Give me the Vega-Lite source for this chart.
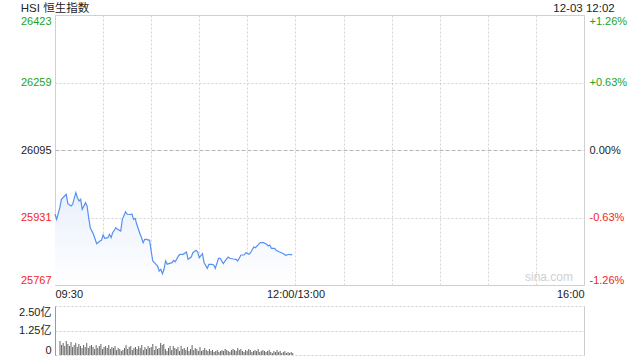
{
  "$schema": "https://vega.github.io/schema/vega-lite/v6.json",
  "padding": {"left": 18, "top": 2, "right": 5, "bottom": 2},
  "background": "white",
  "bounds": "flush",
  "spacing": 21,
  "config": {
    "font": "Liberation Sans, Noto Sans CJK SC, sans-serif",
    "view": {"stroke": null},
    "axis": {"labelFont": "Liberation Sans, Noto Sans CJK SC, sans-serif", "labelFontSize": 11, "labelColor": "#222"}
  },
  "datasets": {
    "px": [
      {"m":0,"v":25938.8},{"m":1,"v":25926.6},{"m":3,"v":25954.8},{"m":4,"v":25975.2},{"m":6,"v":25983.2},{"m":7,"v":25987.4},{"m":8,"v":25964.5},{"m":10,"v":25958.9},{"m":11,"v":25963.1},{"m":13,"v":25991.3},{"m":14,"v":25979.1},{"m":15,"v":25971.1},{"m":16,"v":25975.2},{"m":17,"v":25950.9},{"m":18,"v":25958.9},{"m":19,"v":25967.0},{"m":20,"v":25958.9},{"m":21,"v":25930.5},{"m":22,"v":25906.2},{"m":24,"v":25890.2},{"m":26,"v":25867.3},{"m":28,"v":25873.9},{"m":29,"v":25875.6},{"m":30,"v":25888.5},{"m":31,"v":25880.5},{"m":33,"v":25881.9},{"m":34,"v":25890.2},{"m":35,"v":25881.9},{"m":36,"v":25894.1},{"m":38,"v":25906.2},{"m":39,"v":25902.3},{"m":41,"v":25898.2},{"m":42,"v":25926.6},{"m":44,"v":25945.1},{"m":45,"v":25938.8},{"m":47,"v":25938.3},{"m":48,"v":25939.5},{"m":49,"v":25926.6},{"m":50,"v":25929.0},{"m":51,"v":25914.5},{"m":53,"v":25891.6},{"m":54,"v":25881.9},{"m":55,"v":25869.8},{"m":56,"v":25878.0},{"m":57,"v":25878.0},{"m":59,"v":25875.6},{"m":60,"v":25849.6},{"m":61,"v":25825.3},{"m":62,"v":25821.2},{"m":64,"v":25813.2},{"m":65,"v":25801.0},{"m":66,"v":25805.1},{"m":67,"v":25794.5},{"m":68,"v":25805.1},{"m":69,"v":25825.3},{"m":70,"v":25817.3},{"m":71,"v":25818.8},{"m":73,"v":25821.2},{"m":74,"v":25827.0},{"m":75,"v":25823.6},{"m":77,"v":25837.5},{"m":78,"v":25841.6},{"m":80,"v":25841.6},{"m":82,"v":25847.2},{"m":83,"v":25829.4},{"m":85,"v":25835.0},{"m":86,"v":25845.5},{"m":88,"v":25851.3},{"m":89,"v":25847.2},{"m":90,"v":25833.3},{"m":92,"v":25843.0},{"m":93,"v":25821.2},{"m":95,"v":25807.6},{"m":96,"v":25817.3},{"m":98,"v":25817.3},{"m":99,"v":25815.6},{"m":100,"v":25807.6},{"m":102,"v":25831.9},{"m":103,"v":25831.9},{"m":105,"v":25818.8},{"m":106,"v":25825.3},{"m":108,"v":25835.0},{"m":109,"v":25831.9},{"m":111,"v":25830.2},{"m":113,"v":25829.4},{"m":114,"v":25825.3},{"m":116,"v":25839.9},{"m":118,"v":25839.9},{"m":119,"v":25845.5},{"m":121,"v":25841.6},{"m":122,"v":25845.5},{"m":124,"v":25859.3},{"m":125,"v":25857.6},{"m":127,"v":25865.9},{"m":128,"v":25869.8},{"m":130,"v":25869.8},{"m":132,"v":25865.9},{"m":133,"v":25861.8},{"m":134,"v":25864.2},{"m":135,"v":25856.2},{"m":137,"v":25856.2},{"m":138,"v":25851.3},{"m":140,"v":25847.2},{"m":142,"v":25844.0},{"m":144,"v":25839.2},{"m":146,"v":25841.6},{"m":147,"v":25840.6},{"m":148,"v":25840.6}
    ],
    "vol": [
      {"m":0,"vol":0.71},{"m":1,"vol":0.51},{"m":2,"vol":0.61},{"m":3,"vol":0.46},{"m":4,"vol":0.71},{"m":5,"vol":0.56},{"m":6,"vol":0.46},{"m":7,"vol":0.66},{"m":8,"vol":0.41},{"m":9,"vol":0.51},{"m":10,"vol":0.61},{"m":11,"vol":0.41},{"m":12,"vol":0.56},{"m":13,"vol":0.46},{"m":14,"vol":0.36},{"m":15,"vol":0.51},{"m":16,"vol":0.41},{"m":17,"vol":0.61},{"m":18,"vol":0.36},{"m":19,"vol":0.46},{"m":20,"vol":0.51},{"m":21,"vol":0.41},{"m":22,"vol":0.31},{"m":23,"vol":0.51},{"m":24,"vol":0.36},{"m":25,"vol":0.46},{"m":26,"vol":0.56},{"m":27,"vol":0.31},{"m":28,"vol":0.41},{"m":29,"vol":0.46},{"m":30,"vol":0.36},{"m":31,"vol":0.51},{"m":32,"vol":0.31},{"m":33,"vol":0.41},{"m":34,"vol":0.36},{"m":35,"vol":0.46},{"m":36,"vol":0.26},{"m":37,"vol":0.36},{"m":38,"vol":0.31},{"m":39,"vol":0.20},{"m":40,"vol":0.26},{"m":41,"vol":0.36},{"m":42,"vol":0.51},{"m":43,"vol":0.31},{"m":44,"vol":0.41},{"m":45,"vol":0.46},{"m":46,"vol":0.26},{"m":47,"vol":0.36},{"m":48,"vol":0.41},{"m":49,"vol":0.31},{"m":50,"vol":0.46},{"m":51,"vol":0.36},{"m":52,"vol":0.51},{"m":53,"vol":0.26},{"m":54,"vol":0.41},{"m":55,"vol":0.31},{"m":56,"vol":0.46},{"m":57,"vol":0.36},{"m":58,"vol":0.41},{"m":59,"vol":0.56},
      {"m":60,"vol":0.26},{"m":61,"vol":0.46},{"m":62,"vol":0.31},{"m":63,"vol":0.36},{"m":64,"vol":0.61},{"m":65,"vol":0.51},{"m":66,"vol":0.56},{"m":67,"vol":0.31},{"m":68,"vol":0.20},{"m":69,"vol":0.36},{"m":70,"vol":0.46},{"m":71,"vol":0.26},{"m":72,"vol":0.46},{"m":73,"vol":0.36},{"m":74,"vol":0.31},{"m":75,"vol":0.41},{"m":76,"vol":0.20},{"m":77,"vol":0.46},{"m":78,"vol":0.31},{"m":79,"vol":0.36},{"m":80,"vol":0.26},{"m":81,"vol":0.41},{"m":82,"vol":0.20},{"m":83,"vol":0.31},{"m":84,"vol":0.51},{"m":85,"vol":0.26},{"m":86,"vol":0.36},{"m":87,"vol":0.31},{"m":88,"vol":0.20},{"m":89,"vol":0.41},{"m":90,"vol":0.20},{"m":91,"vol":0.26},{"m":92,"vol":0.36},{"m":93,"vol":0.26},{"m":94,"vol":0.20},{"m":95,"vol":0.31},{"m":96,"vol":0.20},{"m":97,"vol":0.26},{"m":98,"vol":0.15},{"m":99,"vol":0.20},{"m":100,"vol":0.26},{"m":101,"vol":0.15},{"m":102,"vol":0.20},{"m":103,"vol":0.26},{"m":104,"vol":0.20},{"m":105,"vol":0.31},{"m":106,"vol":0.26},{"m":107,"vol":0.20},{"m":108,"vol":0.15},{"m":109,"vol":0.26},{"m":110,"vol":0.31},{"m":111,"vol":0.26},{"m":112,"vol":0.20},{"m":113,"vol":0.36},{"m":114,"vol":0.26},{"m":115,"vol":0.31},{"m":116,"vol":0.20},{"m":117,"vol":0.15},{"m":118,"vol":0.26},{"m":119,"vol":0.20},{"m":120,"vol":0.31},{"m":121,"vol":0.26},{"m":122,"vol":0.15},{"m":123,"vol":0.20},{"m":124,"vol":0.26},{"m":125,"vol":0.20},{"m":126,"vol":0.31},{"m":127,"vol":0.15},{"m":128,"vol":0.20},{"m":129,"vol":0.26},{"m":130,"vol":0.20},{"m":131,"vol":0.15},{"m":132,"vol":0.20},{"m":133,"vol":0.26},{"m":134,"vol":0.15},{"m":135,"vol":0.10},{"m":136,"vol":0.20},{"m":137,"vol":0.15},{"m":138,"vol":0.26},{"m":139,"vol":0.15},{"m":140,"vol":0.20},{"m":141,"vol":0.10},{"m":142,"vol":0.15},{"m":143,"vol":0.20},{"m":144,"vol":0.10},{"m":145,"vol":0.15},{"m":146,"vol":0.10},{"m":147,"vol":0.15},{"m":148,"vol":0.10}
    ]
  },
  "vconcat": [
    {
      "width": 529,
      "height": 270,
      "view": {"stroke": "#cccccc"},
      "layer": [
        {
          "data": {"name": "px"},
          "mark": {"type": "area", "line": false, "clip": true, "fill": {"gradient": "linear", "x1": 1, "y1": 1, "x2": 1, "y2": 0, "stops": [{"offset": 0, "color": "#ffffff"}, {"offset": 1, "color": "#e9f0fc"}]}},
          "encoding": {
            "x": {"field": "m", "type": "quantitative", "scale": {"domain": [0, 330], "nice": false, "zero": false},
              "axis": {"values": [0, 30, 60, 90, 120, 150, 180, 210, 240, 270, 300, 330], "labelExpr": "datum.value == 0 ? '09:30' : datum.value == 150 ? '12:00/13:00' : datum.value == 330 ? '16:00' : ''", "labelFlush": true, "labelOverlap": false, "ticks": false, "domain": false, "labelPadding": 3, "grid": true, "gridDash": [2, 2], "gridColor": "#d4d4d4", "title": null}},
            "y": {"field": "v", "type": "quantitative", "scale": {"domain": [25767, 26423], "nice": false, "zero": false}, "axis": null},
            "y2": {"datum": 25767}
          }
        },
        {
          "data": {"name": "px"},
          "mark": {"type": "line", "color": "#5590f2", "strokeWidth": 1.2},
          "encoding": {
            "x": {"field": "m", "type": "quantitative"},
            "y": {"field": "v", "type": "quantitative", "scale": {"domain": [25767, 26423], "nice": false, "zero": false},
              "axis": {"orient": "left", "values": [25767, 25931, 26095, 26259, 26423], "format": "d", "labelFlush": true, "ticks": false, "domain": false, "labelPadding": 4, "grid": true,
                "gridColor": {"condition": {"test": "datum.value == 26095", "value": "#b5b5b5"}, "value": "#d4d4d4"},
                "gridDash": {"condition": {"test": "datum.value == 26095", "value": [4, 2]}, "value": [2, 2]},
                "labelColor": {"condition": [{"test": "datum.value > 26095", "value": "#1ea21e"}, {"test": "datum.value < 26095", "value": "#f22424"}], "value": "#222222"},
                "title": null}}
          }
        },
        {
          "data": {"values": [{"t": "sina.com"}]},
          "mark": {"type": "text", "align": "right", "baseline": "bottom", "dx": -11, "dy": -1, "color": "#cfcfcf", "fontSize": 12},
          "encoding": {
            "x": {"datum": 330, "type": "quantitative"},
            "y": {"datum": 25767, "type": "quantitative", "scale": {"domain": [25767, 26423], "nice": false, "zero": false},
              "axis": {"orient": "right", "values": [25767, 25931, 26095, 26259, 26423], "labelFlush": true, "ticks": false, "domain": false, "grid": false, "labelPadding": 5,
                "labelExpr": "datum.value == 26095 ? '0.00%' : (datum.value > 26095 ? '+' : '-') + format(abs(datum.value - 26095) / 26095 * 100, '.2f') + '%'",
                "labelColor": {"condition": [{"test": "datum.value > 26095", "value": "#1ea21e"}, {"test": "datum.value < 26095", "value": "#f22424"}], "value": "#222222"},
                "title": null}},
            "text": {"field": "t"}
          }
        },
        {
          "data": {"values": [{"t": "12-03 12:02", "x": 330, "a": "right"}, {"t": "HSI 恒生指数", "x": 0, "a": "left"}]},
          "mark": {"type": "text", "baseline": "bottom", "dy": -1, "color": "#222222", "fontSize": 11.5},
          "encoding": {
            "x": {"field": "x", "type": "quantitative"},
            "y": {"datum": 26423, "type": "quantitative", "scale": {"domain": [25767, 26423], "nice": false, "zero": false}, "axis": null},
            "text": {"field": "t"},
            "align": {"field": "a", "type": "nominal", "scale": null}
          }
        }
      ],
      "resolve": {"scale": {"y": "independent"}}
    },
    {
      "width": 529,
      "height": 49,
      "view": {"stroke": null},
      "layer": [
        {
          "data": {"name": "vol"},
          "mark": {"type": "bar", "color": "#666666", "size": 1},
          "encoding": {
            "x": {"field": "m", "type": "quantitative", "scale": {"domain": [0, 330], "nice": false, "zero": false}, "axis": null},
            "y": {"field": "vol", "type": "quantitative", "scale": {"domain": [0, 2.5], "nice": false},
              "axis": {"orient": "left", "values": [0, 1.25, 2.5], "labelFlush": true, "ticks": false, "domain": true, "domainColor": "#999999", "labelPadding": 4, "grid": true, "gridDash": [2, 2], "gridColor": "#cccccc",
                "labelExpr": "datum.value == 0 ? '0' : format(datum.value, '.2f') + '亿'", "title": null}}
          }
        },
        {
          "data": {"values": [{"a": 0}]},
          "mark": {"type": "rule", "opacity": 0},
          "encoding": {
            "y": {"datum": 0, "type": "quantitative", "scale": {"domain": [0, 2.5], "nice": false},
              "axis": {"orient": "right", "labels": false, "ticks": false, "grid": false, "domain": true, "domainColor": "#cccccc", "title": null}}
          }
        }
      ],
      "resolve": {"scale": {"y": "independent"}}
    }
  ]
}
